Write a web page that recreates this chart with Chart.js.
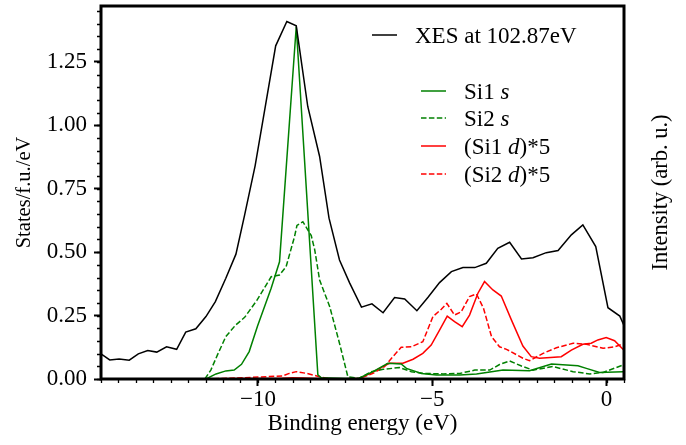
<!DOCTYPE html>
<html>
<head>
<meta charset="utf-8">
<script src="https://cdn.jsdelivr.net/npm/chart.js@4/dist/chart.umd.min.js"></script>
<style>
  html, body { margin: 0; padding: 0; background: #fff; }
</style>
</head>
<body>
<canvas id="dosChart" width="686" height="445"></canvas>
<script>
// XES spectrum (black)
const xesX = [-14.51, -14.25, -13.98, -13.69, -13.43, -13.16, -12.90, -12.62, -12.33, -12.07, -11.78, -11.49, -11.22, -10.92, -10.63, -10.38, -10.08, -9.78, -9.49, -9.17, -8.90, -8.57, -8.23, -7.96, -7.66, -7.37, -7.03, -6.73, -6.41, -6.08, -5.79, -5.44, -5.12, -4.79, -4.45, -4.12, -3.78, -3.45, -3.12, -2.78, -2.44, -2.11, -1.73, -1.39, -1.01, -0.68, -0.31, 0.04, 0.38, 0.60];
const xesY = [0.100, 0.075, 0.079, 0.074, 0.099, 0.112, 0.106, 0.127, 0.117, 0.185, 0.198, 0.246, 0.305, 0.397, 0.492, 0.647, 0.84, 1.08, 1.313, 1.409, 1.392, 1.074, 0.877, 0.634, 0.469, 0.379, 0.283, 0.296, 0.261, 0.321, 0.315, 0.269, 0.322, 0.380, 0.423, 0.439, 0.439, 0.456, 0.515, 0.539, 0.473, 0.478, 0.498, 0.506, 0.568, 0.607, 0.522, 0.281, 0.248, 0.18];

// Si1 s (green solid)
const si1sX = [-11.49, -11.20, -10.92, -10.68, -10.47, -10.25, -10.01, -9.62, -9.38, -8.90, -8.28, -8.18, -7.50, -7.10, -6.70, -6.27, -5.89, -5.74, -5.31, -4.88, -4.21, -3.73, -3.30, -2.97, -2.21, -1.58, -0.82, -0.58, -0.20, 0.47, 0.60];
const si1sY = [0.000, 0.020, 0.032, 0.035, 0.058, 0.108, 0.209, 0.358, 0.462, 1.389, 0.016, 0.005, 0.002, 0.003, 0.029, 0.062, 0.059, 0.042, 0.022, 0.016, 0.016, 0.020, 0.029, 0.035, 0.033, 0.059, 0.052, 0.042, 0.026, 0.029, 0.029];

// Si2 s (green dashed)
const si2sX = [-11.52, -11.35, -11.16, -10.92, -10.65, -10.38, -10.03, -9.62, -9.38, -9.19, -8.95, -8.88, -8.71, -8.47, -8.37, -8.23, -7.94, -7.66, -7.42, -7.10, -6.75, -6.41, -5.94, -5.60, -5.22, -4.69, -4.21, -3.78, -3.35, -3.07, -2.78, -2.44, -2.11, -1.54, -0.96, -0.48, -0.10, 0.47, 0.60];
const si2sY = [0.000, 0.035, 0.095, 0.167, 0.211, 0.243, 0.310, 0.403, 0.410, 0.443, 0.561, 0.605, 0.620, 0.565, 0.509, 0.390, 0.285, 0.141, 0.009, 0.002, 0.029, 0.038, 0.045, 0.029, 0.022, 0.020, 0.022, 0.035, 0.035, 0.057, 0.071, 0.051, 0.035, 0.049, 0.029, 0.020, 0.026, 0.055, 0.062];

// (Si1 d)*5 (red solid)
const si1dX = [-11.50, -10.50, -9.30, -9.00, -8.70, -8.20, -7.30, -7.10, -6.80, -6.51, -6.23, -5.84, -5.55, -5.27, -5.03, -4.79, -4.57, -4.36, -4.14, -3.93, -3.69, -3.50, -3.26, -3.02, -2.73, -2.40, -2.16, -1.92, -1.30, -1.01, -0.68, -0.44, -0.25, -0.01, 0.23, 0.47, 0.60];
const si1dY = [0.000, 0.002, 0.003, 0.005, 0.004, 0.001, 0.000, 0.002, 0.020, 0.042, 0.062, 0.062, 0.078, 0.101, 0.134, 0.193, 0.248, 0.226, 0.206, 0.252, 0.338, 0.384, 0.351, 0.327, 0.233, 0.130, 0.088, 0.082, 0.088, 0.114, 0.137, 0.141, 0.154, 0.163, 0.151, 0.117, 0.100];

// (Si2 d)*5 (red dashed)
const si2dX = [-11.50, -10.80, -9.90, -9.30, -9.10, -8.90, -8.60, -8.20, -7.90, -7.10, -6.70, -6.37, -6.13, -5.89, -5.60, -5.27, -4.98, -4.74, -4.58, -4.36, -4.17, -3.93, -3.73, -3.53, -3.30, -3.07, -2.87, -2.40, -2.21, -1.82, -1.44, -0.96, -0.58, -0.10, 0.23, 0.47, 0.60];
const si2dY = [0.000, 0.003, 0.008, 0.012, 0.022, 0.029, 0.022, 0.008, 0.000, 0.002, 0.022, 0.049, 0.088, 0.125, 0.127, 0.147, 0.246, 0.275, 0.298, 0.252, 0.265, 0.325, 0.335, 0.279, 0.167, 0.127, 0.117, 0.082, 0.072, 0.101, 0.123, 0.141, 0.137, 0.121, 0.127, 0.138, 0.142];

// ticks
const xMajor = [-10, -5, 0];
const yMajor = [0, 0.25, 0.5, 0.75, 1.0, 1.25];
const xMinorStep = 0.5;
const yMinorStep = 0.05;

const FONT = '"Liberation Serif", "Times New Roman", serif';
Chart.defaults.font.family = FONT;
Chart.defaults.font.size = 23;
Chart.defaults.color = 'black';

function pts(xs, ys) {
    return xs.map((x, i) => ({ x: x, y: ys[i] }));
}

// 枠線と副目盛り
const frameAndMinor = {
    id: 'frameAndMinor',
    afterDraw(chart) {
        const { ctx, chartArea: a, scales: { x, y } } = chart;
        ctx.save();
        ctx.strokeStyle = 'black';
        ctx.lineWidth = 1.3;
        ctx.beginPath();
        for (let v = Math.ceil(x.min / xMinorStep) * xMinorStep; v <= x.max + 1e-9; v += xMinorStep) {
            const px = Math.round(x.getPixelForValue(v)) + 0.5;
            ctx.moveTo(px, a.bottom);
            ctx.lineTo(px, a.bottom + 4);
        }
        for (let v = Math.ceil(y.min / yMinorStep) * yMinorStep; v <= y.max + 1e-9; v += yMinorStep) {
            const py = Math.round(y.getPixelForValue(v)) + 0.5;
            ctx.moveTo(a.left, py);
            ctx.lineTo(a.left - 4, py);
        }
        ctx.stroke();

        ctx.lineWidth = 3;
        ctx.strokeRect(a.left, a.top, a.right - a.left, a.bottom - a.top);

        // right axis label
        ctx.fillStyle = 'black';
        ctx.font = '22.5px ' + FONT;
        ctx.textAlign = 'center';
        ctx.textBaseline = 'middle';
        ctx.translate(a.right + 37, (a.top + a.bottom) / 2);
        ctx.rotate(-Math.PI / 2);
        ctx.fillText('Intensity (arb. u.)', 0, 0);
        ctx.restore();
    }
};

// 凡例
const legendRows = [
    { parts: [['XES at 102.87eV', false]], color: 'black', dash: [], x0: 271, y: 29 },
    { parts: [['Si1 ', false], ['s', true]], color: 'green', dash: [], x0: 320, y: 85 },
    { parts: [['Si2 ', false], ['s', true]], color: 'green', dash: [5.5, 2.4], x0: 320, y: 112 },
    { parts: [['(Si1 ', false], ['d', true], [')*5', false]], color: 'red', dash: [], x0: 320, y: 140 },
    { parts: [['(Si2 ', false], ['d', true], [')*5', false]], color: 'red', dash: [5.5, 2.4], x0: 320, y: 168 }
];

const legendPlugin = {
    id: 'customLegend',
    afterDraw(chart) {
        const { ctx, chartArea: a } = chart;
        ctx.save();
        legendRows.forEach(r => {
            const lx = a.left + r.x0;
            const ly = a.top + r.y;
            ctx.strokeStyle = r.color;
            ctx.lineWidth = 1.5;
            ctx.setLineDash(r.dash);
            ctx.beginPath();
            ctx.moveTo(lx, ly);
            ctx.lineTo(lx + 25, ly);
            ctx.stroke();
            ctx.setLineDash([]);
            let tx = lx + 43;
            ctx.fillStyle = 'black';
            ctx.textAlign = 'left';
            ctx.textBaseline = 'alphabetic';
            r.parts.forEach(p => {
                ctx.font = (p[1] ? 'italic ' : '') + '23px ' + FONT;
                ctx.fillText(p[0], tx, ly + 8);
                tx += ctx.measureText(p[0]).width;
            });
        });
        ctx.restore();
    }
};

const lineStyle = { borderWidth: 1.5, pointRadius: 0, tension: 0, fill: false };

new Chart(document.getElementById('dosChart'), {
    type: 'line',
    data: {
        datasets: [
            Object.assign({ label: 'XES at 102.87eV', data: pts(xesX, xesY), borderColor: 'black' }, lineStyle),
            Object.assign({ label: 'Si1 s', data: pts(si1sX, si1sY), borderColor: 'green' }, lineStyle),
            Object.assign({ label: 'Si2 s', data: pts(si2sX, si2sY), borderColor: 'green', borderDash: [5.5, 2.4] }, lineStyle),
            Object.assign({ label: '(Si1 d)*5', data: pts(si1dX, si1dY), borderColor: 'red' }, lineStyle),
            Object.assign({ label: '(Si2 d)*5', data: pts(si2dX, si2dY), borderColor: 'red', borderDash: [5.5, 2.4] }, lineStyle)
        ]
    },
    options: {
        responsive: false,
        animation: false,
        layout: { padding: { top: 6, right: 62, bottom: 0, left: 0 } },
        plugins: { legend: { display: false }, tooltip: { enabled: false } },
        scales: {
            x: {
                type: 'linear',
                min: -14.5,
                max: 0.5,
                afterBuildTicks: s => { s.ticks = xMajor.map(v => ({ value: v })); },
                afterFit: s => { s.height = 66; s.paddingLeft = 0; s.paddingRight = 0; },
                ticks: {
                    callback: v => String(v).replace('-', '\u2212'),
                    padding: 0,
                    maxRotation: 0,
                    autoSkip: false
                },
                grid: { drawOnChartArea: false, tickLength: 7, tickWidth: 2, tickColor: 'black' },
                border: { display: false },
                title: { display: true, text: 'Binding energy (eV)', font: { size: 23 }, padding: { top: 0, bottom: 7 } }
            },
            y: {
                type: 'linear',
                min: 0,
                max: 1.47,
                afterBuildTicks: s => { s.ticks = yMajor.map(v => ({ value: v })); },
                afterFit: s => { s.width = 101; s.paddingTop = 0; s.paddingBottom = 0; },
                ticks: { callback: v => v.toFixed(2), padding: 7 },
                grid: { drawOnChartArea: false, tickLength: 7, tickWidth: 2, tickColor: 'black' },
                border: { display: false },
                title: { display: true, text: 'States/f.u./eV', font: { size: 20.5 }, padding: { top: 12, bottom: 0 } }
            }
        }
    },
    plugins: [frameAndMinor, legendPlugin]
});
</script>
</body>
</html>
